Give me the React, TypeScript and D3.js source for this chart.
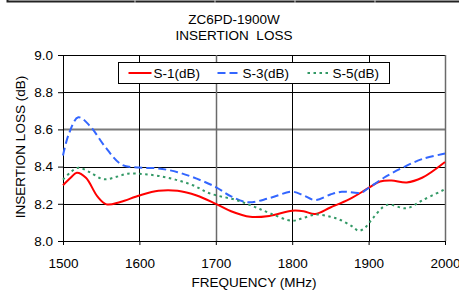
import { useEffect, useRef } from "react";
import * as d3 from "d3";

const freqTicks = [1500, 1600, 1700, 1800, 1900, 2000];
const lossTicks = [8.0, 8.2, 8.4, 8.6, 8.8, 9.0];

const s1Freq = [1500, 1510, 1518, 1530, 1545, 1557, 1575, 1600, 1625, 1650, 1675, 1700, 1720, 1745, 1770, 1800, 1815, 1830, 1850, 1875, 1900, 1915, 1930, 1950, 1970, 2000];
const s1Loss = [8.30, 8.34, 8.367, 8.34, 8.24, 8.197, 8.21, 8.245, 8.27, 8.27, 8.245, 8.20, 8.16, 8.13, 8.135, 8.163, 8.16, 8.145, 8.18, 8.225, 8.285, 8.32, 8.325, 8.315, 8.34, 8.425];

const s3Freq = [1500, 1508, 1520, 1535, 1555, 1577, 1600, 1625, 1650, 1675, 1700, 1720, 1742, 1770, 1800, 1815, 1830, 1850, 1865, 1890, 1900, 1920, 1945, 1970, 2000];
const s3Loss = [8.46, 8.58, 8.665, 8.62, 8.507, 8.41, 8.395, 8.39, 8.37, 8.335, 8.29, 8.24, 8.208, 8.23, 8.265, 8.245, 8.22, 8.25, 8.265, 8.26, 8.285, 8.34, 8.395, 8.44, 8.47];

const s5Freq = [1500, 1510, 1520, 1535, 1553, 1570, 1585, 1605, 1625, 1647, 1670, 1692, 1727, 1750, 1771, 1800, 1815, 1832, 1850, 1863, 1878, 1887, 1895, 1905, 1924, 1950, 1971, 2000];
const s5Loss = [8.33, 8.37, 8.394, 8.37, 8.332, 8.345, 8.362, 8.36, 8.35, 8.33, 8.30, 8.256, 8.22, 8.185, 8.149, 8.109, 8.125, 8.143, 8.13, 8.113, 8.08, 8.055, 8.07, 8.12, 8.194, 8.176, 8.22, 8.278];

const seriesNames = ["S-1(dB)", "S-3(dB)", "S-5(dB)"];

const App = () => {
  const svgRef = useRef<SVGSVGElement>(null);

  useEffect(() => {
    const W = 459;
    const H = 291;
    const margin = { top: 55, right: 14, bottom: 50, left: 63 };
    const width = W - margin.left - margin.right;
    const height = H - margin.top - margin.bottom;
    const font = "'Liberation Sans', Arial, sans-serif";

    const svg = d3.select(svgRef.current);
    svg.selectAll("*").remove();
    svg.attr("width", W).attr("height", H);

    svg.append("rect").attr("width", W).attr("height", H).attr("fill", "#fff");

    // leftover table border along the top
    svg.append("path")
      .attr("d", `M7.5,0 V1.5 H${W}`)
      .attr("fill", "none")
      .attr("stroke", "#222")
      .attr("stroke-width", 2);
    [135, 215, 295, 375].forEach(x => {
      svg.append("line").attr("x1", x).attr("x2", x).attr("y1", 0).attr("y2", 3)
        .attr("stroke", "#ccc").attr("stroke-width", 1);
    });

    // titles
    svg.append("text").attr("x", 234).attr("y", 24).attr("text-anchor", "middle")
      .style("font-family", font).style("font-size", "13.5px").text("ZC6PD-1900W");
    svg.append("text").attr("x", 234).attr("y", 40).attr("text-anchor", "middle")
      .style("font-family", font).style("font-size", "13.5px").style("white-space", "pre")
      .text("INSERTION  LOSS");

    const g = svg.append("g").attr("transform", `translate(${margin.left},${margin.top})`);

    const x = d3.scaleLinear().domain([1500, 2000]).range([0, width]);
    const y = d3.scaleLinear().domain([8.0, 9.0]).range([height, 0]);

    // grid
    lossTicks.slice(1).forEach(v => {
      const yy = Math.round(y(v)) + 0.5;
      g.append("line").attr("x1", 0).attr("x2", width).attr("y1", yy).attr("y2", yy)
        .attr("stroke", v === 8.6 ? "#7a7a7a" : "#000")
        .attr("stroke-width", v === 8.6 ? 2 : 1);
    });
    freqTicks.slice(1).forEach(f => {
      const xx = Math.round(x(f)) + 0.5;
      g.append("line").attr("x1", xx).attr("x2", xx).attr("y1", 0).attr("y2", height)
        .attr("stroke", f === 1700 || f === 2000 ? "#6a6a6a" : "#000")
        .attr("stroke-width", f === 1700 || f === 2000 ? 1.5 : 1);
    });

    // axes
    const yAxis = g.append("g")
      .call(d3.axisLeft(y).tickValues(lossTicks).tickFormat(d3.format(".1f")).tickSize(5).tickPadding(5));
    yAxis.select(".domain").attr("stroke", "#000").attr("d", `M0.5,0.5V${height + 0.5}`);
    yAxis.selectAll("text").style("font-family", font).style("font-size", "13.5px").attr("fill", "#000");

    const xAxis = g.append("g").attr("transform", `translate(0,${height})`)
      .call(d3.axisBottom(x).tickValues(freqTicks).tickFormat(d3.format("d")).tickSize(4).tickPadding(13));
    xAxis.select(".domain").attr("stroke", "#000").attr("d", `M0,0.5H${width}`);
    xAxis.selectAll("text").style("font-family", font).style("font-size", "13.5px").attr("fill", "#000");

    svg.append("text").attr("x", 254).attr("y", 287).attr("text-anchor", "middle")
      .style("font-family", font).style("font-size", "13.5px").text("FREQUENCY (MHz)");
    svg.append("text").attr("transform", "translate(25,147) rotate(-90)").attr("text-anchor", "middle")
      .style("font-family", font).style("font-size", "13.5px").text("INSERTION LOSS (dB)");

    // series
    const line = d3.line<[number, number]>()
      .x(d => x(d[0]))
      .y(d => y(d[1]))
      .curve(d3.curveCatmullRom.alpha(0.5));

    const series = [
      { name: seriesNames[0], freq: s1Freq, loss: s1Loss, color: "#ff0000", dash: null },
      { name: seriesNames[1], freq: s3Freq, loss: s3Loss, color: "#3366ff", dash: "8,4" },
      { name: seriesNames[2], freq: s5Freq, loss: s5Loss, color: "#339966", dash: "2.5,3.5" },
    ];

    series.forEach(s => {
      const pts = s.freq.map((f, i) => [f, s.loss[i]] as [number, number]);
      g.append("path")
        .datum(pts)
        .attr("fill", "none")
        .attr("stroke", s.color)
        .attr("stroke-width", 2)
        .attr("stroke-dasharray", s.dash)
        .attr("d", line);
    });

    // legend
    const legend = svg.append("g").attr("transform", "translate(118.5,62.5)");
    legend.append("rect").attr("width", 271).attr("height", 21)
      .attr("fill", "#fff").attr("stroke", "#000").attr("stroke-width", 1);
    const legendX = [10, 99, 189];
    series.forEach((s, i) => {
      legend.append("line").attr("x1", legendX[i]).attr("x2", legendX[i] + 23)
        .attr("y1", 10.5).attr("y2", 10.5)
        .attr("stroke", s.color).attr("stroke-width", 2).attr("stroke-dasharray", s.dash);
      legend.append("text").attr("x", legendX[i] + 25).attr("y", 15.5)
        .style("font-family", font).style("font-size", "13.5px").text(s.name);
    });
  }, []);

  return <svg ref={svgRef} style={{ position: "absolute", left: 0, top: 0 }}></svg>;
};

export default App;
